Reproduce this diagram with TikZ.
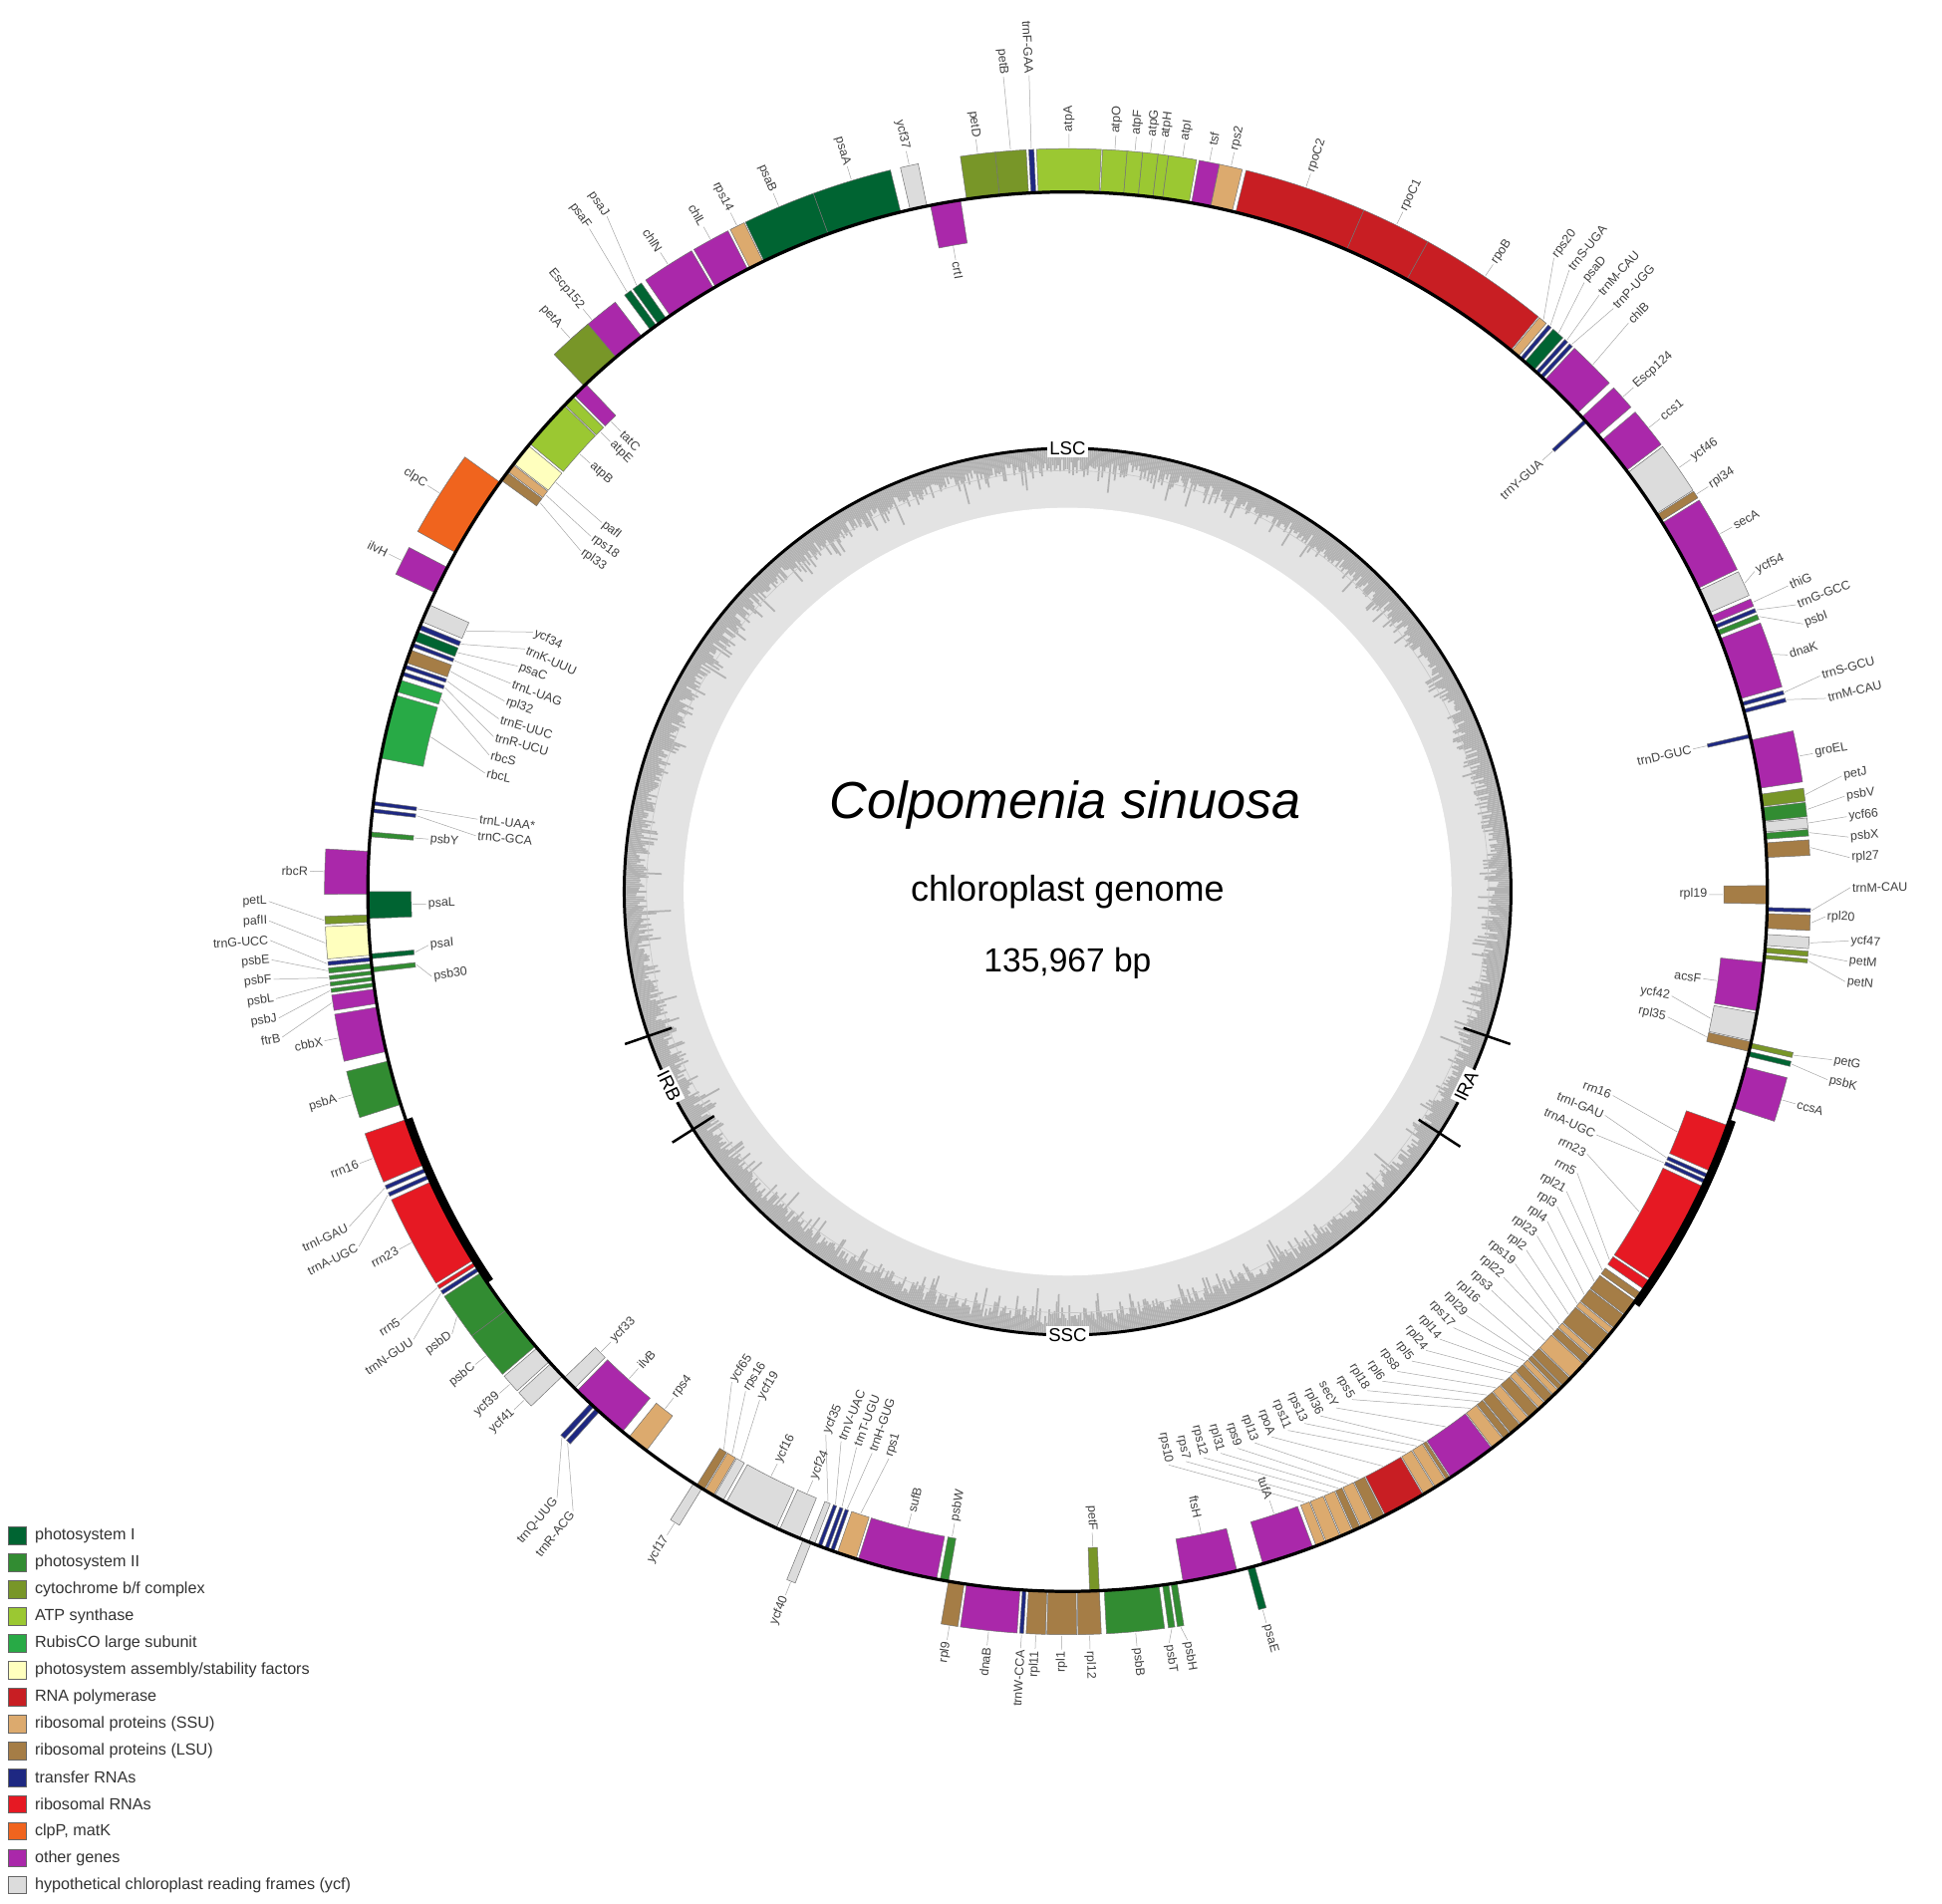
\documentclass[tikz,border=0pt]{standalone}
\usepackage{fontspec}
\setmainfont{Liberation Sans}
\definecolor{psI}{RGB}{0,100,50}
\definecolor{psII}{RGB}{50,140,50}
\definecolor{cyt}{RGB}{120,150,40}
\definecolor{atp}{RGB}{155,200,50}
\definecolor{rub}{RGB}{40,170,70}
\definecolor{asm}{RGB}{255,255,190}
\definecolor{rpo}{RGB}{200,30,35}
\definecolor{ssu}{RGB}{220,170,110}
\definecolor{lsu}{RGB}{165,125,70}
\definecolor{trna}{RGB}{30,40,130}
\definecolor{rrna}{RGB}{230,25,35}
\definecolor{clp}{RGB}{240,100,30}
\definecolor{oth}{RGB}{170,40,170}
\definecolor{ycf}{RGB}{220,220,220}
\newcommand\LRo{612}
\newcommand\LRi{518}
\newcommand\gene[6]{%
 \pgfmathsetmacro\rA{#3>0?565:530}%
 \pgfmathsetmacro\rB{#3>0?600:565}%
 \pgfmathsetmacro\pA{90-(#1)}%
 \pgfmathsetmacro\pB{90-(#2)}%
 \draw[genebox,fill=#4] (\pA:\rA pt) arc[start angle=\pA,end angle=\pB,radius=\rA pt] -- (\pB:\rB pt) arc[start angle=\pB,end angle=\pA,radius=\rB pt] -- cycle;
 \pgfmathsetmacro\Lang{#6}%
 \pgfmathsetmacro\pM{90-((#1)+(#2))/2}%
 \pgfmathsetmacro\rE{#3>0?\rB+1:\rA-1}%
 \pgfmathsetmacro\rL{#3>0?\LRo:\LRi}%
 \pgfmathsetmacro\pL{90-\Lang}%
 \pgfmathsetmacro\tm{mod(\Lang+720,360)}%
 \pgfmathsetmacro\flip{((\tm>0.01)&&(\tm<180))?0:1}%
 \pgfmathsetmacro\rot{\flip>0.5?-90-\Lang:90-\Lang}%
 \pgfmathsetmacro\sgn{(#3)*(1-2*\flip)}%
 \ifdim\sgn pt>0pt \def\anc{west}\else\def\anc{east}\fi
 \draw[leader] (\pM:\rE pt) -- (\pL:\rL pt);
 \node[glabel,anchor=\anc,rotate=\rot] at (\pL:\rL pt) {#5};%
}
\newcommand\genem[5]{\gene{#1}{#2}{#3}{#4}{#5}{((#1)+(#2))/2}}
\begin{document}
\begin{tikzpicture}[x=1pt,y=1pt,
  genebox/.style={draw=black!55,line width=0.4pt},
  leader/.style={draw=black!35,line width=0.4pt},
  glabel/.style={font=\fontsize{10}{10}\selectfont,text=black!75,inner sep=1.5pt},
  legbox/.style={draw=black!60,line width=0.4pt,minimum size=14pt,inner sep=0pt},
  legtext/.style={font=\fontsize{13}{13}\selectfont,text=black!80,anchor=west,inner sep=0pt}]
\useasboundingbox (-862,-817) rectangle (706,720);
\fill[white] (-862,-817) rectangle (706,720);
% inner GC plot
\fill[gray!22] (0,0) circle (358);
\pgfmathsetseed{7}
\foreach \a in {0,0.25,...,359.75}{%
  \pgfmathsetmacro\l{350-30*rnd*rnd*rnd-10*rnd}%
  \draw[gray!60,line width=1.4pt] (\a:357) -- (\a:\l);}
\fill[white] (0,0) circle (310);
\draw[gray!45,line width=0.5pt] (0,0) circle (340);
\draw[black,line width=2.4pt] (0,0) circle (358);
\foreach \t in {109,123,237.6,251}{\draw[line width=2pt] ({90-\t}:338) -- ({90-\t}:378);}
\node[fill=white,inner sep=2pt,font=\fontsize{15}{15}\selectfont] (lsc) at (90:358) {LSC};
\node[fill=white,inner sep=2pt,font=\fontsize{15}{15}\selectfont] (ssc) at (-90:358) {SSC};
\node[fill=white,inner sep=2pt,rotate=64,font=\fontsize{15}{15}\selectfont] (ira) at (-26:358) {IRA};
\node[fill=white,inner sep=2pt,rotate=-64,font=\fontsize{15}{15}\selectfont] (irb) at (-154:358) {IRB};
\node[font=\fontsize{42}{42}\selectfont\itshape] (title) at (-2,70) {Colpomenia sinuosa};
\node[font=\fontsize{29}{29}\selectfont] (sub) at (0,0) {chloroplast genome};
\node[font=\fontsize{27}{27}\selectfont] (bp) at (0,-58) {135,967 bp};
% genome ring
\draw[line width=0.3pt] (0,0) circle (565);
% genes: top-left
\genem{-42}{-37.5}{1}{oth}{Escp152}
\begin{scope}\renewcommand\LRo{660}
\gene{-36.6}{-36.0}{1}{psI}{psaF}{-35.8}
\gene{-35.8}{-35.0}{1}{psI}{psaJ}{-34.3}
\gene{-5.6}{-3.2}{1}{cyt}{petB}{-4.5}
\gene{-3.0}{-2.6}{1}{trna}{trnF-GAA}{-2.7}
\end{scope}
\genem{-34.6}{-30.4}{1}{oth}{chlN}
\genem{-30.2}{-27.2}{1}{oth}{chlL}
\genem{-27}{-25.8}{1}{ssu}{rps14}
\genem{-25.7}{-20}{1}{psI}{psaB}
\genem{-20}{-13.8}{1}{psI}{psaA}
\genem{-13}{-11.6}{1}{ycf}{ycf37}
\genem{-11.3}{-8.8}{-1}{oth}{crtI}
\genem{-8.3}{-5.6}{1}{cyt}{petD}
\genem{-2.4}{2.6}{1}{atp}{atpA}
\genem{2.7}{4.6}{1}{atp}{atpO}
\genem{4.6}{5.8}{1}{atp}{atpF}
\genem{5.8}{7}{1}{atp}{atpG}
\genem{7}{7.8}{1}{atp}{atpH}
\genem{7.8}{10}{1}{atp}{atpI}
\genem{10.2}{11.8}{1}{oth}{tsf}
\genem{11.8}{13.6}{1}{ssu}{rps2}
\genem{13.9}{23.5}{1}{rpo}{rpoC2}
\genem{23.5}{29}{1}{rpo}{rpoC1}
\genem{29}{39.3}{1}{rpo}{rpoB}
\begin{scope}\renewcommand\LRo{645}
\gene{39.4}{40.1}{1}{ssu}{rps20}{37.5}
\gene{40.3}{40.6}{1}{trna}{trnS-UGA}{38.9}
\gene{40.8}{41.8}{1}{psI}{psaD}{40.3}
\gene{42}{42.3}{1}{trna}{trnM-CAU}{41.7}
\gene{42.5}{42.8}{1}{trna}{trnP-UGG}{43.1}
\gene{43}{46.8}{1}{oth}{chlB}{44.6}
\end{scope}
\genem{47.3}{49.3}{1}{oth}{Escp124}
\genem{47.6}{47.9}{-1}{trna}{trnY-GUA}
\genem{49.8}{53}{1}{oth}{ccs1}
\genem{53.2}{57.3}{1}{ycf}{ycf46}
\genem{57.4}{58}{1}{lsu}{rpl34}
\genem{58.2}{64.3}{1}{oth}{secA}
\gene{64.5}{66.5}{1}{ycf}{ycf54}{65}
\begin{scope}\renewcommand\LRo{632}
\gene{66.8}{67.4}{1}{oth}{thiG}{67.0}
\gene{67.6}{67.9}{1}{trna}{trnG-GCC}{68.5}
\gene{68.1}{68.5}{1}{psII}{psbI}{70.0}
\gene{74.3}{74.6}{1}{trna}{trnS-GCU}{74.0}
\gene{74.9}{75.2}{1}{trna}{trnM-CAU}{75.7}
\gene{82}{83}{1}{cyt}{petJ}{81.5}
\gene{83.1}{84.2}{1}{psII}{psbV}{83}
\gene{84.3}{85.1}{1}{ycf}{ycf66}{84.5}
\gene{85.2}{85.7}{1}{psII}{psbX}{86}
\gene{86}{87.2}{1}{lsu}{rpl27}{87.5}
\gene{91.3}{91.6}{1}{trna}{trnM-CAU}{89.7}
\gene{93.5}{94.4}{1}{ycf}{ycf47}{93.6}
\gene{94.6}{95}{1}{cyt}{petM}{95.1}
\gene{95.2}{95.5}{1}{cyt}{petN}{96.6}
\gene{102.5}{102.9}{1}{cyt}{petG}{102.4}
\gene{103.2}{103.6}{1}{psI}{psbK}{103.9}
\end{scope}
\gene{68.8}{74}{1}{oth}{dnaK}{71.8}
\genem{77}{77.3}{-1}{trna}{trnD-GUC}
\genem{77.5}{81.5}{1}{oth}{groEL}
\genem{89.5}{91}{-1}{lsu}{rpl19}
\gene{91.8}{93}{1}{lsu}{rpl20}{91.9}
\genem{95.8}{99.8}{-1}{oth}{acsF}
\begin{scope}\renewcommand\LRi{495}
\gene{100}{102.3}{-1}{ycf}{ycf42}{99.8}
\gene{102.4}{103.2}{-1}{lsu}{rpl35}{101.8}
\end{scope}
\genem{104.5}{108}{1}{oth}{ccsA}
% IRA + ribosomal cluster (inside)
\draw[line width=5pt] ({90-109}:568) arc[start angle={90-109},end angle={90-126},radius=568];
\begin{scope}\renewcommand\LRi{470}
\gene{109.5}{113.5}{-1}{rrna}{rrn16}{110.5}
\gene{113.8}{114.1}{-1}{trna}{trnI-GAU}{112.6}
\gene{114.3}{114.6}{-1}{trna}{trnA-UGC}{114.7}
\gene{114.9}{123.6}{-1}{rrna}{rrn23}{116.8}
\gene{123.8}{124.6}{-1}{rrna}{rrn5}{118.9}
\gene{125.0}{125.6}{-1}{lsu}{rpl21}{121}
\gene{125.8}{127.2}{-1}{lsu}{rpl3}{122.75}
\gene{127.3}{128.6}{-1}{lsu}{rpl4}{124.5}
\gene{128.7}{129.2}{-1}{ssu}{rpl23}{126.25}
\gene{129.3}{131.0}{-1}{lsu}{rpl2}{128}
\gene{131.1}{131.6}{-1}{ssu}{rps19}{129.75}
\gene{131.7}{132.4}{-1}{lsu}{rpl22}{131.5}
\gene{132.5}{134.0}{-1}{ssu}{rps3}{133.25}
\gene{134.1}{134.9}{-1}{lsu}{rpl16}{135}
\gene{135.0}{135.4}{-1}{lsu}{rpl29}{136.75}
\gene{135.5}{136.0}{-1}{ssu}{rps17}{138.5}
\gene{136.1}{136.9}{-1}{lsu}{rpl14}{140.25}
\gene{137.0}{137.6}{-1}{ssu}{rpl24}{142}
\gene{137.7}{138.7}{-1}{lsu}{rpl5}{143.75}
\gene{138.8}{139.6}{-1}{ssu}{rps8}{145.5}
\gene{139.7}{140.7}{-1}{lsu}{rpl6}{147.25}
\gene{140.8}{141.4}{-1}{lsu}{rpl18}{149}
\gene{141.5}{142.6}{-1}{ssu}{rps5}{150.75}
\gene{142.7}{146.8}{-1}{oth}{secY}{152.5}
\gene{146.9}{147.2}{-1}{lsu}{rpl36}{154.25}
\gene{147.3}{148.3}{-1}{ssu}{rps13}{156}
\gene{148.4}{149.4}{-1}{ssu}{rps11}{157.75}
\gene{149.5}{153.0}{-1}{rpo}{rpoA}{159.5}
\gene{153.1}{154.1}{-1}{lsu}{rpl13}{161.25}
\gene{154.2}{155.2}{-1}{ssu}{rps9}{163}
\gene{155.3}{155.9}{-1}{lsu}{rpl31}{164.75}
\gene{156.0}{157.0}{-1}{ssu}{rps12}{166.5}
\gene{157.1}{158.3}{-1}{ssu}{rps7}{168.25}
\gene{158.4}{159.2}{-1}{ssu}{rps10}{170}
\end{scope}
\genem{159.5}{163.8}{-1}{oth}{tufA}
\genem{164.5}{165.1}{1}{psI}{psaE}
\genem{166}{170.5}{-1}{oth}{ftsH}
\gene{171}{171.5}{1}{psII}{psbH}{170.9}
\gene{171.7}{172.2}{1}{psII}{psbT}{172.3}
\genem{172.5}{177}{1}{psII}{psbB}
\genem{177.4}{178.2}{-1}{cyt}{petF}
\genem{177.4}{179.2}{1}{lsu}{rpl12}
\genem{179.3}{181.6}{1}{lsu}{rpl1}
\genem{181.7}{183.2}{1}{lsu}{rpl11}
\genem{183.4}{183.7}{1}{trna}{trnW-CCA}
\genem{183.9}{188.3}{1}{oth}{dnaB}
\genem{188.5}{189.8}{1}{lsu}{rpl9}
\genem{189.8}{190.5}{-1}{psII}{psbW}
\genem{190.8}{197.4}{-1}{oth}{sufB}
\begin{scope}\renewcommand\LRi{480}
\gene{197.6}{199.2}{-1}{ssu}{rps1}{197.5}
\gene{199.5}{199.8}{-1}{trna}{trnH-GUG}{199.2}
\gene{200.0}{200.3}{-1}{trna}{trnT-UGU}{200.8}
\gene{200.6}{200.9}{-1}{trna}{trnV-UAC}{202.4}
\gene{201.2}{201.7}{-1}{ycf}{ycf35}{204}
\gene{209.5}{210.3}{-1}{ycf}{ycf19}{211.2}
\gene{210.4}{211.2}{-1}{ssu}{rps16}{212.8}
\gene{211.3}{212}{-1}{lsu}{ycf65}{214.4}
\end{scope}
\genem{201.5}{202.2}{1}{ycf}{ycf40}
\genem{202.5}{204.3}{-1}{ycf}{ycf24}
\genem{204.6}{209.2}{-1}{ycf}{ycf16}
\genem{211.5}{212.3}{1}{ycf}{ycf17}
\genem{217}{218.8}{-1}{ssu}{rps4}
\begin{scope}\renewcommand\LRo{640}
\gene{222}{222.4}{1}{trna}{trnR-ACG}{218.6}
\gene{222.6}{223}{1}{trna}{trnQ-UUG}{220.1}
\gene{237.2}{237.5}{1}{trna}{trnN-GUU}{235.6}
\gene{237.7}{238}{1}{rrna}{rrn5}{237.3}
\gene{245.8}{246.1}{1}{trna}{trnA-UGC}{243.4}
\gene{246.4}{246.7}{1}{trna}{trnI-GAU}{245}
\end{scope}
\genem{219.5}{224.5}{-1}{oth}{ilvB}
\genem{224.8}{226}{-1}{ycf}{ycf33}
\genem{226.2}{227.6}{1}{ycf}{ycf41}
\genem{227.8}{229.3}{1}{ycf}{ycf39}
\genem{229.5}{233.3}{1}{psII}{psbC}
\gene{233.3}{237}{1}{psII}{psbD}{234.3}
\draw[line width=5pt] ({90-236}:562) arc[start angle={90-236},end angle={90-251},radius=562];
\genem{238.2}{245.5}{1}{rrna}{rrn23}
\genem{247}{251}{1}{rrna}{rrn16}
\genem{252.3}{256}{1}{psII}{psbA}
\genem{256.8}{260.5}{1}{oth}{cbbX}
\begin{scope}\renewcommand\LRo{645}
\gene{260.8}{262}{1}{oth}{ftrB}{259.5}
\gene{262.2}{262.5}{1}{psII}{psbJ}{260.9}
\gene{262.7}{263}{1}{psII}{psbL}{262.3}
\gene{263.2}{263.5}{1}{psII}{psbF}{263.7}
\gene{263.7}{264.1}{1}{psII}{psbE}{265.1}
\gene{264.3}{264.6}{1}{trna}{trnG-UCC}{266.5}
\gene{264.8}{267.3}{1}{asm}{pafII}{267.9}
\gene{267.5}{268.1}{1}{cyt}{petL}{269.3}
\end{scope}
\gene{263.4}{263.8}{-1}{psII}{psb30}{262.4}
\gene{264.5}{264.9}{-1}{psI}{psaI}{265.2}
\genem{267.8}{270}{-1}{psI}{psaL}
\genem{269.8}{273.3}{1}{oth}{rbcR}
\genem{274.5}{274.9}{-1}{psII}{psbY}
\begin{scope}\renewcommand\LRi{480}
\gene{276.5}{276.8}{-1}{trna}{trnC-GCA}{275.4}
\gene{277.1}{277.4}{-1}{trna}{trnL-UAA*}{277}
\gene{281}{286.3}{-1}{rub}{rbcL}{281.5}
\gene{286.6}{287.6}{-1}{rub}{rbcS}{283.3}
\gene{288}{288.3}{-1}{trna}{trnR-UCU}{285.1}
\gene{288.6}{288.9}{-1}{trna}{trnE-UUC}{286.9}
\gene{289.1}{290.2}{-1}{lsu}{rpl32}{288.7}
\gene{290.5}{290.8}{-1}{trna}{trnL-UAG}{290.5}
\gene{291}{291.8}{-1}{psI}{psaC}{292.3}
\gene{292}{292.4}{-1}{trna}{trnK-UUU}{294.1}
\gene{292.7}{294.2}{-1}{ycf}{ycf34}{295.9}
\gene{306}{306.8}{-1}{lsu}{rpl33}{305}
\gene{306.9}{307.6}{-1}{ssu}{rps18}{306.7}
\gene{307.7}{309.6}{-1}{asm}{pafI}{308.4}
\end{scope}
\genem{295.3}{297.6}{1}{oth}{ilvH}
\genem{299}{305.8}{1}{clp}{clpC}
\genem{309.8}{314}{-1}{atp}{atpB}
\genem{314.1}{315}{-1}{atp}{atpE}
\genem{315.2}{316.5}{-1}{oth}{tatC}
\genem{316.3}{319.8}{1}{cyt}{petA}
% ring on top
\draw[line width=2.6pt] (0,0) circle (565);
% legend
\foreach \c/\t [count=\i from 0] in {psI/photosystem I,psII/photosystem II,cyt/cytochrome b\slash f complex,atp/ATP synthase,rub/RubisCO large subunit,asm/photosystem assembly\slash stability factors,rpo/RNA polymerase,ssu/ribosomal proteins (SSU),lsu/ribosomal proteins (LSU),trna/transfer RNAs,rrna/ribosomal RNAs,clp/{clpP, matK},oth/other genes,ycf/hypothetical chloroplast reading frames (ycf)}{
  \node[legbox,fill=\c] (lb\i) at (-848,{-520-21.7*\i}) {};
  \node[legtext] (lt\i) at (-834,{-520-21.7*\i}) {\t};}
\end{tikzpicture}
\end{document}
